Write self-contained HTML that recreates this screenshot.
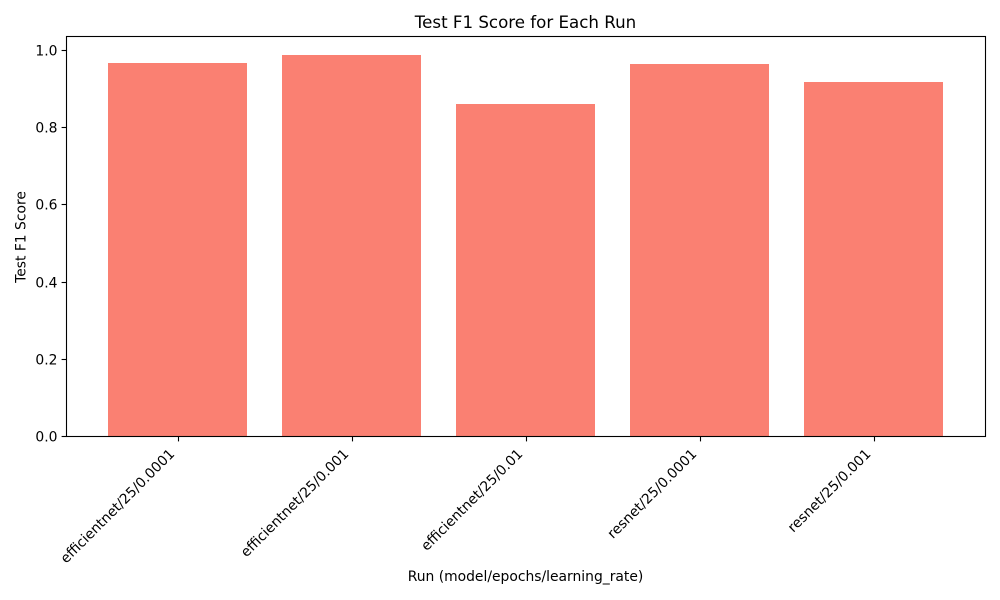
<!DOCTYPE html>
<html>
<head>
<meta charset="utf-8">
<style>
html,body{margin:0;padding:0;background:#fff;}
svg{display:block;}
text{font-family:"DejaVu Sans",sans-serif;fill:#000;}
</style>
</head>
<body>
<svg id="chart" xmlns="http://www.w3.org/2000/svg" width="1000" height="600" viewBox="0 0 1000 600">
  <rect x="0" y="0" width="1000" height="600" fill="#ffffff"/>
  <g id="bars" shape-rendering="crispEdges"></g>
  <g id="y-axis"></g>
  <g id="x-axis"></g>
  <rect x="66.5" y="36.5" width="919" height="400" fill="none" stroke="#000" stroke-width="1.1"/>
  <text x="525.5" y="28" font-size="16.67" text-anchor="middle">Test F1 Score for Each Run</text>
  <text x="525.5" y="581" font-size="13.89" text-anchor="middle">Run (model/epochs/learning_rate)</text>
  <text transform="translate(25.7,237) rotate(-90)" font-size="13.89" text-anchor="middle">Test F1 Score</text>
</svg>
<script>
const categories = ["efficientnet/25/0.0001", "efficientnet/25/0.001", "efficientnet/25/0.01", "resnet/25/0.0001", "resnet/25/0.001"];
const f1Scores = [0.967, 0.988, 0.861, 0.964, 0.918];
const yTicks = [0, 0.2, 0.4, 0.6, 0.8, 1.0];
const yTickLabels = ["0.0", "0.2", "0.4", "0.6", "0.8", "1.0"];

const NS = "http://www.w3.org/2000/svg";
const plot = { left: 66, right: 985, top: 36.5, bottom: 436.5 };
const yMax = 1.0363;
const barWidth = 0.8;

function xScale(i) {
  const min = -0.64;
  const max = categories.length - 1 + 0.64;
  return plot.left + (i - min) / (max - min) * (plot.right - plot.left);
}
function yScale(v) {
  return plot.bottom - v / yMax * (plot.bottom - plot.top);
}
function make(tag, attrs, parent, txt) {
  const el = document.createElementNS(NS, tag);
  for (const k in attrs) el.setAttribute(k, attrs[k]);
  if (txt !== undefined) el.textContent = txt;
  parent.appendChild(el);
  return el;
}

const barsG = document.getElementById("bars");
const xG = document.getElementById("x-axis");
const yG = document.getElementById("y-axis");

categories.forEach(function (c, i) {
  const x0 = Math.round(xScale(i - barWidth / 2));
  const x1 = Math.round(xScale(i + barWidth / 2));
  const yTop = Math.round(yScale(f1Scores[i]));
  const bar = make("rect", { x: x0, y: yTop, width: x1 - x0, height: 436 - yTop, fill: "#fa8072" }, barsG);
  
  

  const cx = Math.ceil(xScale(i)) + 0.5;
  const tick = make("line", { x1: cx, x2: cx, y1: 436.5, y2: 441.4, stroke: "#000", "stroke-width": 1.1 }, xG);
  
  

  const ax = xScale(i) - 2;
  const ay = 454.7;
  const label = make("text", { "font-size": 13.89, "text-anchor": "end", transform: "translate(" + ax + "," + ay + ") rotate(-45)" }, xG, c);
  
  
});

yTicks.forEach(function (t, i) {
  const y = Math.floor(yScale(t)) + 0.5;
  const tick = make("line", { x1: 61.6, x2: 66.5, y1: y, y2: y, stroke: "#000", "stroke-width": 1.1 }, yG);
  
  

  const label = make("text", { x: 57.5, y: y + 5, "font-size": 13.89, "text-anchor": "end" }, yG, yTickLabels[i]);
  
  
});
</script>
</body>
</html>
